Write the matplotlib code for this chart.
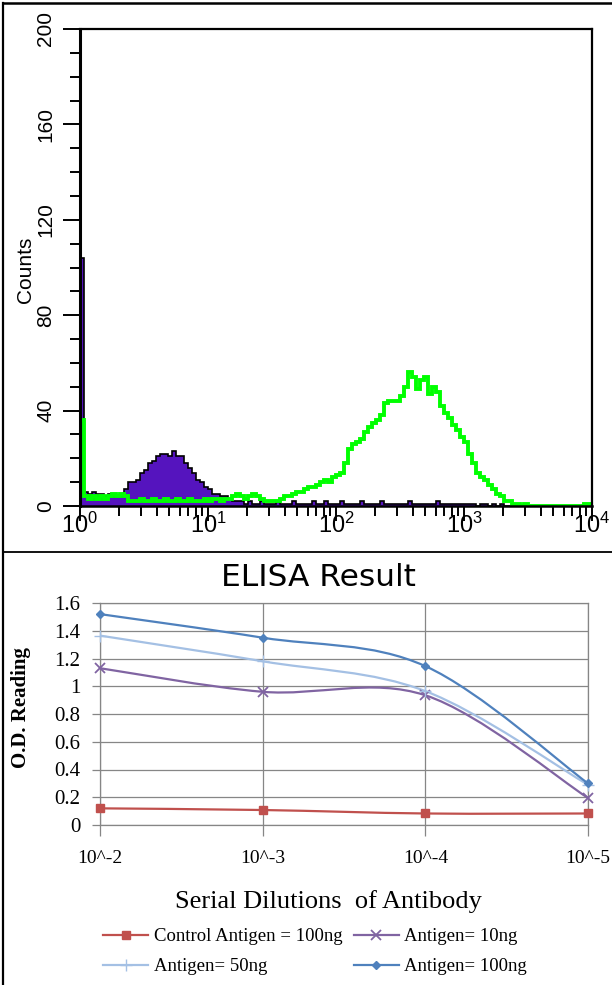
import matplotlib.pyplot as plt
import numpy as np
from matplotlib.lines import Line2D
from matplotlib.path import Path
from matplotlib.patches import PathPatch
from matplotlib.ticker import MultipleLocator, LogLocator, NullFormatter

plt.rcParams['font.family'] = ['Liberation Sans', 'DejaVu Sans']
plt.rcParams['mathtext.default'] = 'regular'

# flow histogram, 32 channels per decade from 10^0 to 10^4
control_counts = [104, 6, 5, 6, 5, 5, 4, 5, 5, 4,
                  5, 7, 10, 10, 11, 14, 15, 18, 19, 21,
                  22, 22, 21, 23, 21, 21, 18, 16, 14, 11,
                  10, 8, 7, 5, 5, 4, 4, 3, 2, 2,
                  2, 1, 2, 1, 1, 2, 1, 1, 1, 2,
                  1, 1, 1, 2, 1, 1, 1, 1, 2, 1,
                  1, 2, 1, 1, 1, 2, 1, 1, 1, 1,
                  2, 1, 1, 1, 1, 2, 1, 1, 1, 1,
                  1, 1, 2, 1, 1, 1, 1, 1, 1, 2,
                  1, 1, 1, 1, 1, 1, 1, 1, 1, 0,
                  1, 1, 0, 1, 0, 1, 0, 0, 0, 0,
                  0, 0, 0, 0, 0, 0, 0, 0, 0, 0,
                  0, 0, 0, 0, 0, 0, 0, 0]
stained_counts = [36, 4, 3, 4, 3, 4, 3, 4, 5, 4,
                  5, 4, 2, 2, 2, 3, 2, 2, 3, 2,
                  2, 3, 2, 2, 3, 2, 2, 3, 2, 2,
                  2, 3, 2, 3, 3, 2, 3, 3, 4, 5,
                  4, 3, 4, 5, 4, 3, 2, 2, 2, 2,
                  3, 4, 4, 5, 6, 6, 7, 8, 8, 9,
                  10, 11, 10, 12, 13, 14, 18, 24, 26, 27,
                  28, 31, 33, 35, 36, 38, 43, 44, 44, 44,
                  46, 50, 56, 54, 49, 53, 54, 47, 50, 48,
                  42, 39, 37, 34, 32, 29, 27, 22, 18, 14,
                  12, 11, 9, 7, 5, 4, 2, 2, 1, 1,
                  0, 1, 0, 0, 0, 0, 0, 0, 0, 0,
                  0, 0, 0, 0, 0, 0, 1, 1]
edges = np.logspace(0, 4, len(control_counts) + 1)

# ELISA
dilutions = ['10^-2', '10^-3', '10^-4', '10^-5']
control_100 = [0.12, 0.108, 0.083, 0.083]
antigen_10 = [1.13, 0.96, 0.935, 0.195]
antigen_50 = [1.365, 1.18, 0.965, 0.29]
antigen_100 = [1.52, 1.35, 1.145, 0.30]
od_ticks = [0, 0.2, 0.4, 0.6, 0.8, 1.0, 1.2, 1.4, 1.6]
od_labels = ['0', '0.2', '0.4', '0.6', '0.8', '1', '1.2', '1.4', '1.6']

W, H = 612, 985
fig = plt.figure(figsize=(W / 100, H / 100), dpi=100)

# ---------------- top: histogram ----------------
ax1 = fig.add_axes([80 / W, 1 - 506 / H, 512 / W, 477 / H])
ax1.stairs(control_counts, edges, fill=True, color='#5514BE')
ax1.stairs(control_counts, edges, color='black', lw=1.2)
ax1.stairs(stained_counts, edges, color='#00FF00', lw=2.8)
ax1.set_xscale('log')
ax1.set_xlim(1, 1e4)
ax1.set_ylim(0, 200)
ax1.set_yticks([0, 40, 80, 120, 160, 200])
ax1.yaxis.set_minor_locator(MultipleLocator(10))
ax1.xaxis.set_major_locator(LogLocator(base=10))
ax1.xaxis.set_minor_locator(LogLocator(base=10, subs=np.arange(2, 10)))
ax1.xaxis.set_minor_formatter(NullFormatter())
ax1.tick_params(axis='y', which='major', length=12, width=1.4, labelsize=15,
                labelrotation=90, pad=6)
ax1.tick_params(axis='y', which='minor', length=7, width=1.4)
ax1.tick_params(axis='x', which='major', length=11, width=1.4, labelsize=17, pad=-6)
ax1.tick_params(axis='x', which='minor', length=7, width=1.4)
for lab in ax1.get_yticklabels():
    lab.set_va('center')
ax1.spines['left'].set_linewidth(2.2)
ax1.spines['bottom'].set_linewidth(1.8)
ax1.spines['top'].set_linewidth(1.6)
ax1.spines['right'].set_linewidth(1.6)
ax1.set_ylabel('Counts', fontsize=15)
ax1.yaxis.set_label_coords(-0.107, 0.495)
ax1.yaxis.label.set_va('center')

# ---------------- bottom: ELISA ----------------
serif = ['Liberation Serif', 'DejaVu Serif']
grid_c = '#868686'
ax2 = fig.add_axes([100 / W, 1 - 825 / H, 488 / W, 222 / H])
x = np.arange(len(dilutions))


def smooth_path(xs, ys):
    verts = [(xs[0], ys[0])]
    codes = [Path.MOVETO]
    n = len(xs)
    for i in range(n - 1):
        a = max(i - 1, 0)
        b = min(i + 2, n - 1)
        c1 = (xs[i] + (xs[i + 1] - xs[a]) / 6, ys[i] + (ys[i + 1] - ys[a]) / 6)
        c2 = (xs[i + 1] - (xs[b] - xs[i]) / 6, ys[i + 1] - (ys[b] - ys[i]) / 6)
        verts += [c1, c2, (xs[i + 1], ys[i + 1])]
        codes += [Path.CURVE4] * 3
    return Path(verts, codes)


series = [
    ('Control Antigen = 100ng', control_100, '#C0504D', 's', 6, 1.0),
    ('Antigen= 10ng', antigen_10, '#8064A2', 'x', 7, 1.3),
    ('Antigen= 50ng', antigen_50, '#A4C0E4', '+', 8, 1.0),
    ('Antigen= 100ng', antigen_100, '#4F81BD', 'D', 4.5, 1.0),
]
handles = {}
for name, vals, col, mk, ms, mew in series:
    ax2.add_patch(PathPatch(smooth_path(list(x), vals), fill=False,
                            edgecolor=col, lw=1.6, zorder=3))
    ax2.plot(x, vals, linestyle='none', marker=mk, ms=ms, mew=mew,
             color=col, zorder=4, clip_on=False)
    handles[name] = Line2D([], [], color=col, lw=1.6, marker=mk, ms=ms, mew=mew)

ax2.set_xlim(0, 3)
ax2.set_ylim(0, 1.6)
ax2.set_xticks(x)
ax2.set_xticklabels(dilutions, family=serif, fontsize=14)
ax2.set_yticks(od_ticks)
ax2.set_yticklabels(od_labels, family=serif, fontsize=15)
ax2.grid(True, color=grid_c, lw=0.9)
ax2.set_axisbelow(True)
for sp in ax2.spines.values():
    sp.set_color(grid_c)
    sp.set_linewidth(0.9)
ax2.tick_params(axis='y', length=6, color=grid_c, width=0.9, pad=8)
ax2.tick_params(axis='x', length=8, color=grid_c, width=0.9, pad=10)

ax2.set_title('ELISA Result', family=['DejaVu Sans'], fontsize=22.5,
              x=(318 - 100) / 488, pad=12)
ax2.set_ylabel('O.D. Reading', family=serif, fontsize=15, fontweight='bold')
ax2.yaxis.set_label_coords((21 - 100) / 488, (825 - 708) / 222)
ax2.yaxis.label.set_va('center')
ax2.set_xlabel('Serial Dilutions  of Antibody', family=serif, fontsize=19)
ax2.xaxis.set_label_coords((328 - 100) / 488, (825 - 902) / 222)
ax2.xaxis.label.set_va('center')

order = ['Control Antigen = 100ng', 'Antigen= 50ng', 'Antigen= 10ng', 'Antigen= 100ng']
fig.legend([handles[k] for k in order], order, ncol=2, loc='upper left',
           bbox_to_anchor=(103 / W, 1 - 928 / H), bbox_transform=fig.transFigure,
           frameon=False, borderpad=0, borderaxespad=0, handlelength=2.4,
           handletextpad=0.3, columnspacing=0.6, labelspacing=0.7,
           prop={'family': serif, 'size': 13.5})

# panel frame lines
fig.add_artist(Line2D([3 / W, 3 / W], [0, 1 - 3 / H], color='black', lw=1.6))
fig.add_artist(Line2D([3 / W, 1], [1 - 3 / H, 1 - 3 / H], color='black', lw=1.8))
fig.add_artist(Line2D([3 / W, 1], [1 - 552 / H, 1 - 552 / H], color='black', lw=1.3))

fig.savefig('out.png', dpi=100)
